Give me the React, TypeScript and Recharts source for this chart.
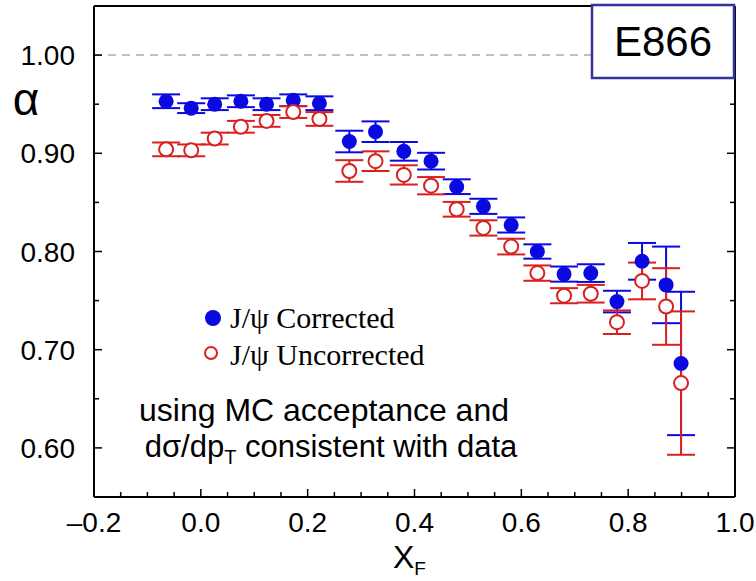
import React from "react";
import {
  ComposedChart,
  Scatter,
  XAxis,
  YAxis,
  ErrorBar,
  ReferenceLine,
} from "recharts";

// ---- data ----
const xF = [
  -0.065, -0.018, 0.026, 0.075, 0.123, 0.173, 0.222, 0.278, 0.327, 0.38, 0.431,
  0.479, 0.529, 0.581, 0.63, 0.68, 0.73, 0.779, 0.826, 0.871, 0.899,
];
const corrected = [
  0.953, 0.946, 0.95, 0.953, 0.95, 0.954, 0.951, 0.912, 0.922, 0.902, 0.892,
  0.866, 0.846, 0.827, 0.8, 0.777, 0.778, 0.749, 0.79, 0.766, 0.686,
];
const correctedErr = [
  0.007, 0.005, 0.006, 0.006, 0.006, 0.006, 0.007, 0.011, 0.0105, 0.0095,
  0.0085, 0.0075, 0.0077, 0.0077, 0.0073, 0.0077, 0.009, 0.011, 0.0187, 0.039,
  0.073,
];
const uncorrected = [
  0.904, 0.903, 0.915, 0.927, 0.933, 0.942, 0.935, 0.882, 0.892, 0.878, 0.867,
  0.843, 0.824, 0.805, 0.778, 0.755, 0.757, 0.728, 0.77, 0.744, 0.666,
];
const uncorrectedErr = [
  0.007, 0.006, 0.006, 0.006, 0.006, 0.006, 0.007, 0.011, 0.01, 0.0098,
  0.0088, 0.0075, 0.0078, 0.008, 0.0078, 0.0077, 0.009, 0.012, 0.0187, 0.039,
  0.073,
];

const xTicks = [
  -0.2, -0.15, -0.1, -0.05, 0, 0.05, 0.1, 0.15, 0.2, 0.25, 0.3, 0.35, 0.4,
  0.45, 0.5, 0.55, 0.6, 0.65, 0.7, 0.75, 0.8, 0.85, 0.9, 0.95, 1.0,
];
const xMajor = [-0.2, 0, 0.2, 0.4, 0.6, 0.8, 1.0];
const xMajorLabels = ["–0.2", "0.0", "0.2", "0.4", "0.6", "0.8", "1.0"];

const yTicks = [0.6, 0.65, 0.7, 0.75, 0.8, 0.85, 0.9, 0.95, 1.0];
const yMajor = [0.6, 0.7, 0.8, 0.9, 1.0];
const yMajorLabels = ["0.60", "0.70", "0.80", "0.90", "1.00"];

const seriesNames = ["J/ψ Corrected", "J/ψ Uncorrected"];

const correctedData = xF.map((x, i) => ({ x, y: corrected[i], e: correctedErr[i] }));
const uncorrectedData = xF.map((x, i) => ({ x, y: uncorrected[i], e: uncorrectedErr[i] }));

const BLUE = "#0a0ae0";
const RED = "#d92020";
const SANS = "'Liberation Sans', Arial, Helvetica, sans-serif";
const SERIF = "'Liberation Serif', 'Times New Roman', serif";

const majorIndex = (arr: number[], v: number) =>
  arr.findIndex((m) => Math.abs(m - v) < 1e-6);

const BottomTick = (props: any) => {
  const { x, y, payload } = props;
  const idx = majorIndex(xMajor, payload.value);
  const len = idx >= 0 ? 8 : 5;
  return (
    <g>
      <line x1={x} y1={y} x2={x} y2={y - len} stroke="#000" strokeWidth={1.5} />
      {idx >= 0 && (
        <text x={x} y={y + 35} textAnchor="middle" fontFamily={SANS} fontSize={28} fill="#000">
          {xMajorLabels[idx]}
        </text>
      )}
    </g>
  );
};

const TopTick = (props: any) => {
  const { x, y, payload } = props;
  const idx = majorIndex(xMajor, payload.value);
  const len = idx >= 0 ? 8 : 5;
  return <line x1={x} y1={y} x2={x} y2={y + len} stroke="#000" strokeWidth={1.5} />;
};

const LeftTick = (props: any) => {
  const { x, y, payload } = props;
  const idx = majorIndex(yMajor, payload.value);
  const len = idx >= 0 ? 8 : 5;
  return (
    <g>
      <line x1={x} y1={y} x2={x + len} y2={y} stroke="#000" strokeWidth={1.5} />
      {idx >= 0 && (
        <text x={x - 19} y={y + 10} textAnchor="end" fontFamily={SANS} fontSize={28} fill="#000">
          {yMajorLabels[idx]}
        </text>
      )}
    </g>
  );
};

const RightTick = (props: any) => {
  const { x, y, payload } = props;
  const idx = majorIndex(yMajor, payload.value);
  const len = idx >= 0 ? 8 : 5;
  return <line x1={x} y1={y} x2={x - len} y2={y} stroke="#000" strokeWidth={1.5} />;
};

const FilledDot = (props: any) => {
  const { cx, cy } = props;
  return <circle cx={cx} cy={cy} r={7.5} fill={BLUE} stroke="none" />;
};

const OpenDot = (props: any) => {
  const { cx, cy } = props;
  return <circle cx={cx} cy={cy} r={7} fill="#fff" stroke={RED} strokeWidth={2} />;
};

export default function App() {
  return (
    <div style={{ position: "absolute", left: 0, top: 0, width: 756, height: 581, background: "#fff" }}>
      <ComposedChart
        width={756}
        height={581}
        margin={{ top: 0, right: 0, bottom: 0, left: 0 }}
      >
        <XAxis
          xAxisId="b"
          type="number"
          dataKey="x"
          domain={[-0.2, 1.0]}
          ticks={xTicks}
          interval={0}
          allowDataOverflow
          orientation="bottom"
          height={84}
          tickSize={0}
          tickMargin={0}
          tickLine={false}
          axisLine={{ stroke: "#000", strokeWidth: 2 }}
          tick={<BottomTick />}
        />
        <XAxis
          xAxisId="t"
          type="number"
          domain={[-0.2, 1.0]}
          ticks={xTicks}
          interval={0}
          allowDataOverflow
          orientation="top"
          height={6}
          tickSize={0}
          tickMargin={0}
          tickLine={false}
          axisLine={{ stroke: "#000", strokeWidth: 2 }}
          tick={<TopTick />}
        />
        <YAxis
          yAxisId="l"
          type="number"
          dataKey="y"
          domain={[0.55, 1.05]}
          ticks={yTicks}
          interval={0}
          allowDataOverflow
          orientation="left"
          width={94}
          tickSize={0}
          tickMargin={0}
          tickLine={false}
          axisLine={{ stroke: "#000", strokeWidth: 2 }}
          tick={<LeftTick />}
        />
        <YAxis
          yAxisId="r"
          type="number"
          domain={[0.55, 1.05]}
          ticks={yTicks}
          interval={0}
          allowDataOverflow
          orientation="right"
          width={21}
          tickSize={0}
          tickMargin={0}
          tickLine={false}
          axisLine={{ stroke: "#000", strokeWidth: 2 }}
          tick={<RightTick />}
        />
        <ReferenceLine
          xAxisId="b"
          yAxisId="l"
          y={1.0}
          stroke="#aaaaaa"
          strokeWidth={1.5}
          strokeDasharray="8 6"
        />
        <Scatter
          name={seriesNames[0]}
          data={correctedData}
          xAxisId="b"
          yAxisId="l"
          dataKey="y"
          shape={<FilledDot />}
          isAnimationActive={false}
        >
          <ErrorBar dataKey="e" direction="y" width={14} stroke={BLUE} strokeWidth={2} isAnimationActive={false} />
        </Scatter>
        <Scatter
          name={seriesNames[1]}
          data={uncorrectedData}
          xAxisId="b"
          yAxisId="l"
          dataKey="y"
          shape={<OpenDot />}
          isAnimationActive={false}
        >
          <ErrorBar dataKey="e" direction="y" width={14} stroke={RED} strokeWidth={2} isAnimationActive={false} />
        </Scatter>
      </ComposedChart>
      <svg
        width={756}
        height={581}
        style={{ position: "absolute", left: 0, top: 0, pointerEvents: "none" }}
      >
        <rect x={592} y={5} width={142} height={73} fill="#fff" stroke="#333399" strokeWidth={2.5} />
        <text x={663} y={56} textAnchor="middle" fontFamily={SANS} fontSize={42} fill="#000">
          E866
        </text>
        <text x={26} y={115} textAnchor="middle" fontFamily={SANS} fontSize={46} fill="#000">
          α
        </text>
        <text x={393} y={568} fontFamily={SANS} fontSize={32} fill="#000">
          X
          <tspan fontSize={19} dy={7}>F</tspan>
        </text>
        <circle cx={213} cy={318} r={8} fill={BLUE} />
        <text x={230} y={328} fontFamily={SERIF} fontSize={30} fill="#000">
          {seriesNames[0]}
        </text>
        <circle cx={211} cy={353} r={6} fill="#fff" stroke={RED} strokeWidth={2} />
        <text x={230} y={365} fontFamily={SERIF} fontSize={30} fill="#000">
          {seriesNames[1]}
        </text>
        <text x={324} y={421} textAnchor="middle" fontFamily={SANS} fontSize={32} fill="#000">
          using MC acceptance and
        </text>
        <text x={331} y={457} textAnchor="middle" fontFamily={SANS} fontSize={31} fill="#000">
          dσ/dp
          <tspan fontSize={20} dy={7}>T</tspan>
          <tspan dy={-7}> consistent with data</tspan>
        </text>
      </svg>
    </div>
  );
}
